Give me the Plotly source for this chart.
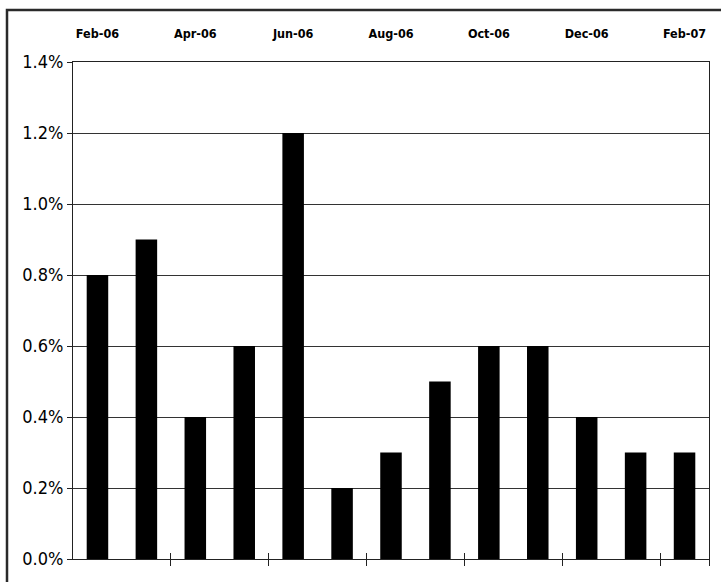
import plotly.graph_objects as go

# Monthly values, Feb-06 .. Feb-07 (percent)
months = ["Feb-06", "Mar-06", "Apr-06", "May-06", "Jun-06", "Jul-06", "Aug-06",
          "Sep-06", "Oct-06", "Nov-06", "Dec-06", "Jan-07", "Feb-07"]
values = [0.8, 0.9, 0.4, 0.6, 1.2, 0.2, 0.3, 0.5, 0.6, 0.6, 0.4, 0.3, 0.3]

# Labels shown along the top, every other month
top_labels = months[::2]
# Tick marks at the boundaries between every pair of months
tick_months = months[2::2]

y_ticks = [0.0, 0.2, 0.4, 0.6, 0.8, 1.0, 1.2, 1.4]
y_ticktext = ["0.0%", "0.2%", "0.4%", "0.6%", "0.8%", "1.0%", "1.2%", "1.4%"]

W, H = 721, 582
L, R, T, B = 73, 12, 62, 23
pw, ph = W - L - R, H - T - B

narrow = "DejaVu Sans Condensed, Liberation Sans Narrow, Arial Narrow, sans-serif"

fig = go.Figure()

fig.add_trace(go.Bar(
    x=months, y=values, xaxis="x", yaxis="y",
    marker=dict(color="#000000", line=dict(width=0)),
    hoverinfo="x+y", showlegend=False,
))
# invisible helpers so the extra category axes are laid out
for ax in ("x2", "x3"):
    fig.add_trace(go.Scatter(
        x=months, y=values, xaxis=ax, yaxis="y", mode="markers",
        marker=dict(opacity=0), hoverinfo="skip", showlegend=False,
    ))

fig.update_layout(
    width=W, height=H,
    margin=dict(l=L, r=R, t=T, b=B, pad=0),
    paper_bgcolor="white", plot_bgcolor="white",
    bargap=0.56,
    xaxis=dict(
        type="category", categoryorder="array", categoryarray=months,
        range=[-0.5, 12.5], tickson="boundaries",
        tickmode="array", tickvals=tick_months,
        ticks="outside", ticklen=6, tickwidth=1, tickcolor="#222",
        showticklabels=False,
        showline=True, linecolor="#222", linewidth=1, mirror=True,
        showgrid=False, zeroline=False, fixedrange=True,
    ),
    xaxis3=dict(
        type="category", categoryorder="array", categoryarray=months,
        overlaying="x", side="bottom", range=[-0.5, 12.5], tickson="boundaries",
        tickmode="array", tickvals=tick_months,
        ticks="inside", ticklen=6, tickwidth=1, tickcolor="#222",
        showticklabels=False, showline=False, showgrid=False, zeroline=False,
    ),
    xaxis2=dict(
        type="category", categoryorder="array", categoryarray=months,
        overlaying="x", side="top", range=[-0.5, 12.5],
        tickmode="array", tickvals=top_labels, ticktext=top_labels,
        ticks="outside", ticklen=18, tickcolor="rgba(0,0,0,0)",
        tickfont=dict(family=narrow, size=12.5, color="#000", weight="bold"),
        showline=False, showgrid=False, zeroline=False,
    ),
    yaxis=dict(
        range=[0, 1.4], tickmode="array", tickvals=y_ticks, ticktext=y_ticktext,
        ticks="outside", ticklen=5, tickwidth=1, tickcolor="#222",
        tickfont=dict(family=narrow, size=18, color="#000"),
        showgrid=True, gridcolor="#333", gridwidth=1,
        showline=True, linecolor="#222", linewidth=1, mirror=True,
        zeroline=False, fixedrange=True,
    ),
)

# outer frame, running off the right and bottom edges
fig.add_shape(
    type="rect", xref="paper", yref="paper",
    x0=(7 - L) / pw, x1=(W + 20 - L) / pw,
    y0=(H - B - (H + 20)) / ph, y1=(H - B - 10) / ph,
    line=dict(color="#2a2a2a", width=2.5), fillcolor="rgba(0,0,0,0)",
    layer="above",
)

fig.write_html("out.html")
